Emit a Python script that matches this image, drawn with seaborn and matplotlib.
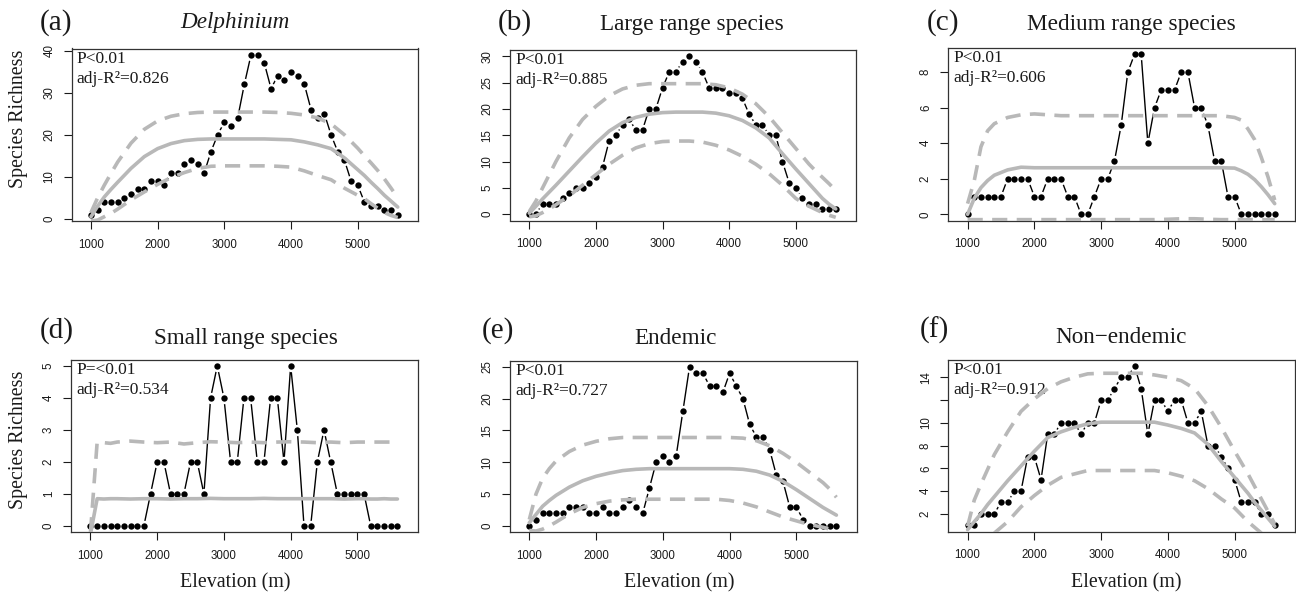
import matplotlib
matplotlib.use("Agg")
import matplotlib.pyplot as plt
import seaborn as sns
import pandas as pd
import numpy as np

# ---------------- data ----------------
elevation = [1000, 1100, 1200, 1300, 1400, 1500, 1600, 1700, 1800, 1900,
             2000, 2100, 2200, 2300, 2400, 2500, 2600, 2700, 2800, 2900,
             3000, 3100, 3200, 3300, 3400, 3500, 3600, 3700, 3800, 3900,
             4000, 4100, 4200, 4300, 4400, 4500, 4600, 4700, 4800, 4900,
             5000, 5100, 5200, 5300, 5400, 5500, 5600]

curve_elev = [1000, 1100, 1200, 1300, 1400, 1600, 1800, 2000, 2200, 2400,
              2600, 2800, 3000, 3200, 3400, 3600, 3800, 4000, 4200, 4400,
              4600, 4800, 5000, 5100, 5200, 5300, 5400, 5500, 5600]

rich_a = [1, 2, 4, 4, 4, 5, 6, 7, 7, 9, 9, 8, 11, 11, 13, 14, 13, 11, 16, 20,
          23, 22, 24, 32, 39, 39, 37, 31, 34, 33, 35, 34, 32, 26, 24, 25, 20, 16, 14, 9,
          8, 4, 3, 3, 2, 2, 1]
mean_a = [0.5, 3.0, 5.2, 7.0, 8.7, 12.0, 14.8, 16.7, 17.9, 18.6, 18.9, 19.0, 19.0, 19.0, 19.0,
          19.0, 18.9, 18.8, 18.3, 17.6, 16.7, 14.5, 11.7, 10.3, 8.7, 7.2, 5.6, 4.2, 2.8]
upper_a = [1.5, 5.0, 8.0, 10.8, 13.5, 18.0, 21.3, 23.3, 24.4, 25.0, 25.3, 25.4, 25.4, 25.4, 25.4,
           25.4, 25.3, 25.1, 24.7, 24.0, 22.6, 20.0, 16.8, 15.0, 13.3, 11.5, 9.5, 7.3, 5.0]
lower_a = [-0.5, -0.3, 0.5, 1.3, 2.3, 4.5, 6.4, 8.2, 9.8, 11.0, 12.0, 12.5, 12.6, 12.6, 12.6,
           12.6, 12.5, 12.3, 11.4, 10.3, 9.3, 7.3, 5.6, 4.8, 3.6, 2.5, 1.5, 0.8, 0.3]

rich_b = [0, 0, 2, 2, 2, 3, 4, 5, 5, 6, 7, 9, 14, 15, 17, 18, 16, 16, 20, 20,
          24, 27, 27, 29, 30, 29, 27, 24, 24, 24, 23, 23, 22, 19, 17, 17, 15, 15, 10, 6,
          5, 3, 2, 2, 1, 1, 1]
mean_b = [0.2, 1.5, 2.9, 4.2, 5.5, 8.2, 10.9, 13.5, 15.8, 17.4, 18.4, 19.0, 19.3, 19.4, 19.4,
          19.4, 19.2, 18.7, 17.8, 16.4, 14.5, 11.5, 8.6, 7.2, 5.8, 4.4, 3.0, 1.9, 1.0]
upper_b = [0.5, 2.5, 5.0, 7.5, 10.0, 14.5, 18.0, 20.5, 22.5, 23.8, 24.5, 24.8, 24.8, 24.8, 24.8,
           24.8, 24.6, 24.0, 22.8, 21.0, 18.5, 15.5, 12.5, 11.0, 9.5, 8.2, 7.0, 5.8, 4.5]
lower_b = [-0.5, -0.3, 0.3, 1.0, 1.8, 3.5, 5.5, 7.5, 9.5, 11.2, 12.6, 13.4, 13.8, 13.9, 13.9,
           13.7, 13.1, 12.2, 11.0, 9.5, 7.7, 5.5, 3.0, 2.2, 1.5, 0.9, 0.3, -0.2, -0.6]

rich_c = [0, 1, 1, 1, 1, 1, 2, 2, 2, 2, 1, 1, 2, 2, 2, 1, 1, 0, 0, 1,
          2, 2, 3, 5, 8, 9, 9, 4, 6, 7, 7, 7, 8, 8, 6, 6, 5, 3, 3, 1,
          1, 0, 0, 0, 0, 0, 0]
mean_c = [0.0, 0.9, 1.5, 1.9, 2.2, 2.5, 2.65, 2.62, 2.62, 2.62, 2.62, 2.62, 2.62, 2.62, 2.62,
          2.62, 2.62, 2.62, 2.62, 2.62, 2.62, 2.62, 2.6, 2.45, 2.25, 1.95, 1.55, 1.1, 0.6]
upper_c = [0.6, 1.9, 3.8, 4.7, 5.1, 5.45, 5.6, 5.65, 5.6, 5.55, 5.55, 5.55, 5.55, 5.55, 5.55,
           5.55, 5.55, 5.55, 5.55, 5.55, 5.55, 5.55, 5.45, 5.3, 4.8, 4.2, 3.2, 2.1, 0.8]
lower_c = [-0.3, -0.3, -0.3, -0.3, -0.3, -0.3, -0.3, -0.3, -0.3, -0.3, -0.3, -0.3, -0.3, -0.3, -0.3,
           -0.3, -0.3, -0.28, -0.25, -0.25, -0.28, -0.3, -0.3, -0.3, -0.3, -0.3, -0.3, -0.3, -0.3]

rich_d = [0, 0, 0, 0, 0, 0, 0, 0, 0, 1, 2, 2, 1, 1, 1, 2, 2, 1, 4, 5,
          4, 2, 2, 4, 4, 2, 2, 4, 4, 2, 5, 3, 0, 0, 2, 3, 2, 1, 1, 1,
          1, 1, 0, 0, 0, 0, 0]
mean_d = [-0.25, 0.85, 0.84, 0.85, 0.85, 0.84, 0.85, 0.85, 0.84, 0.85, 0.85, 0.86, 0.85, 0.85, 0.85,
          0.86, 0.85, 0.85, 0.85, 0.85, 0.85, 0.84, 0.85, 0.85, 0.84, 0.84, 0.85, 0.84, 0.84]
upper_d = [-0.2, 2.62, 2.6, 2.58, 2.62, 2.65, 2.62, 2.6, 2.62, 2.56, 2.6, 2.63, 2.62, 2.6, 2.62,
           2.6, 2.62, 2.63, 2.62, 2.6, 2.62, 2.6, 2.62, 2.62, 2.62, 2.62, 2.62, 2.62, 2.62]
lower_d = None

rich_e = [0, 1, 2, 2, 2, 2, 3, 3, 3, 2, 2, 3, 2, 2, 3, 4, 3, 2, 6, 10,
          11, 10, 11, 18, 25, 24, 24, 22, 22, 21, 24, 22, 20, 16, 14, 14, 12, 8, 7, 3,
          3, 1, 0, 0, 0, 0, 0]
mean_e = [0.5, 1.8, 3.1, 4.0, 4.8, 6.1, 7.1, 7.8, 8.3, 8.7, 8.9, 9.0, 9.0, 9.0, 9.0,
          9.0, 9.0, 9.0, 8.9, 8.6, 8.0, 7.0, 5.7, 5.0, 4.3, 3.6, 2.9, 2.3, 1.7]
upper_e = [1.0, 5.0, 7.5, 9.0, 10.2, 11.7, 12.7, 13.3, 13.7, 13.9, 13.9, 13.9, 13.9, 13.9, 13.9,
           13.9, 13.9, 13.9, 13.8, 13.4, 12.6, 11.4, 10.0, 9.2, 8.4, 7.6, 6.8, 5.8, 4.5]
lower_e = [-0.7, -0.8, -0.5, 0.0, 0.6, 1.9, 2.9, 3.5, 3.9, 4.1, 4.2, 4.2, 4.2, 4.2, 4.2,
           4.2, 4.2, 4.0, 3.6, 3.0, 2.2, 1.4, 0.8, 0.5, 0.3, 0.0, -0.2, -0.5, -0.7]

rich_f = [1, 1, 2, 2, 2, 3, 3, 4, 4, 7, 7, 5, 9, 9, 10, 10, 10, 9, 10, 10,
          12, 12, 13, 14, 14, 15, 13, 9, 12, 12, 11, 12, 12, 10, 10, 11, 8, 8, 7, 6,
          5, 3, 3, 3, 2, 2, 1]
mean_f = [0.6, 1.3, 2.0, 2.8, 3.5, 4.9, 6.2, 7.5, 8.7, 9.2, 9.6, 9.9, 10.05, 10.05, 10.05,
          10.05, 10.05, 9.8, 9.5, 9.1, 8.1, 6.6, 5.2, 4.5, 3.8, 3.0, 2.3, 1.6, 0.9]
upper_f = [0.9, 3.2, 4.6, 5.9, 7.2, 9.2, 11.0, 12.1, 13.0, 13.6, 14.0, 14.3, 14.35, 14.35, 14.35,
           14.35, 14.2, 14.0, 13.7, 13.0, 11.5, 9.6, 7.5, 6.5, 5.5, 4.4, 3.3, 2.2, 1.1]
lower_f = [None, None, None, None, 0.3, 1.3, 2.6, 3.6, 4.5, 5.2, 5.5, 5.8, 5.8, 5.8, 5.8,
           5.8, 5.8, 5.6, 5.3, 4.9, 4.2, 3.3, 2.5, 1.9, 1.3, 0.8, 0.3, None, None]

letters = ["(a)", "(b)", "(c)", "(d)", "(e)", "(f)"]
titles = ["Delphinium", "Large range species", "Medium range species",
          "Small range species", "Endemic", "Non\u2212endemic"]
p_texts = ["P<0.01", "P<0.01", "P<0.01", "P=<0.01", "P<0.01", "P<0.01"]
r2_texts = ["adj-R\u00b2=0.826", "adj-R\u00b2=0.885", "adj-R\u00b2=0.606",
            "adj-R\u00b2=0.534", "adj-R\u00b2=0.727", "adj-R\u00b2=0.912"]
x_ticks = [1000, 2000, 3000, 4000, 5000]
y_ticks = [[0, 10, 20, 30, 40], [0, 5, 10, 15, 20, 25, 30], [0, 2, 4, 6, 8],
           [0, 1, 2, 3, 4, 5], [0, 5, 10, 15, 20, 25], [2, 4, 6, 8, 10, 12, 14]]
y_tick_labels = [["0", "10", "20", "30", "40"], ["0", "5", "10", "15", "20", "25", "30"],
                 ["0", "2", "4", "6", "8"], ["0", "1", "2", "3", "4", "5"],
                 ["0", "5", "10", "15", "20", "25"], ["2", "4", "6", "8", "10", "", "14"]]

riches = [rich_a, rich_b, rich_c, rich_d, rich_e, rich_f]
means = [mean_a, mean_b, mean_c, mean_d, mean_e, mean_f]
uppers = [upper_a, upper_b, upper_c, upper_d, upper_e, upper_f]
lowers = [lower_a, lower_b, lower_c, lower_d, lower_e, lower_f]

# ---------------- layout (pixels) ----------------
W, H = 1296, 598
boxes = [(71.7, 48.5, 418.0, 221.0), (510.0, 50.0, 856.0, 220.5), (948.3, 48.0, 1295.0, 220.7),
         (71.2, 359.5, 417.7, 532.3), (510.0, 360.5, 856.7, 532.3), (948.3, 359.5, 1295.0, 531.5)]
letter_pos = [(40, 29.5), (498, 29.5), (927, 29.5), (40, 337.5), (482, 337.5), (920, 337.5)]
title_pos = [(235, 28), (692, 30), (1131, 30), (245.6, 344), (675.5, 344), (1120.5, 343)]
ylab_pos = [(18.5, 119), (18.5, 440)]
xlab_pos = [(235, 587), (679.6, 587), (1126, 587)]

sns.set_style("white")
plt.rcParams['font.family'] = ['Liberation Serif', 'DejaVu Serif']
plt.rcParams['axes.unicode_minus'] = False

GRAY = '#b8b8b8'
DASH = (0, (4.2, 2.6))
INK = '#1a1a1a'

fig = plt.figure(figsize=(W / 100, H / 100), dpi=100)

for i in range(6):
    l, t, r, b = boxes[i]
    ax = fig.add_axes([l / W, 1 - b / H, (r - l) / W, (b - t) / H])
    df = pd.DataFrame({'elev': elevation, 'rich': riches[i]})
    sns.lineplot(data=df, x='elev', y='rich', ax=ax, color='black', linewidth=1.0,
                 estimator=None, zorder=1)
    sns.scatterplot(data=df, x='elev', y='rich', ax=ax, color='white', s=67,
                    linewidth=0, zorder=2)
    sns.scatterplot(data=df, x='elev', y='rich', ax=ax, color='black', s=21,
                    linewidth=0, zorder=3)
    for vals, ls in ((means[i], '-'), (uppers[i], DASH), (lowers[i], DASH)):
        if vals is None:
            continue
        cdf = pd.DataFrame({'elev': curve_elev,
                            'v': [np.nan if v is None else v for v in vals]}).dropna()
        sns.lineplot(data=cdf, x='elev', y='v', ax=ax, color=GRAY, linewidth=2.6,
                     linestyle=ls, estimator=None, zorder=4)

    lo, hi = min(riches[i]), max(riches[i])
    pad = 0.04 * (hi - lo)
    ax.set_ylim(lo - pad, hi + pad)
    ax.set_xlim(711, 5904)
    ax.set_xlabel('')
    ax.set_ylabel('')
    ax.set_xticks(x_ticks, labels=[str(v) for v in x_ticks], fontfamily='Liberation Sans')
    ax.set_yticks(y_ticks[i], labels=y_tick_labels[i], fontfamily='Liberation Sans',
                  rotation=90, va='center')
    ax.tick_params(direction='out', length=5.8, width=0.8, pad=7, labelsize=8.3,
                   colors=INK, left=True, bottom=True)
    ax.tick_params(axis='y', pad=6)
    for s in ax.spines.values():
        s.set_visible(True)
        s.set_linewidth(0.9)
        s.set_color('#333333')

    ax.text(5 / (r - l), 1 - 14.5 / (b - t), p_texts[i], transform=ax.transAxes,
            fontsize=12.5, color=INK, ha='left', va='baseline')
    ax.text(5 / (r - l), 1 - 34.4 / (b - t), r2_texts[i], transform=ax.transAxes,
            fontsize=12.5, color=INK, ha='left', va='baseline')

    lx, ly = letter_pos[i]
    fig.text(lx / W, 1 - ly / H, letters[i], fontsize=21, color=INK, ha='left', va='baseline')
    tx, ty = title_pos[i]
    fig.text(tx / W, 1 - ty / H, titles[i], fontsize=16.7, color=INK, ha='center',
             va='baseline', style='italic' if i == 0 else 'normal')

for (x, y) in ylab_pos:
    fig.text(x / W, 1 - y / H, "Species Richness", fontsize=14.4, color=INK,
             rotation=90, ha='center', va='center')
for (x, y) in xlab_pos:
    fig.text(x / W, 1 - y / H, "Elevation (m)", fontsize=14.4, color=INK,
             ha='center', va='baseline')

fig.savefig("out.png", dpi=100)
